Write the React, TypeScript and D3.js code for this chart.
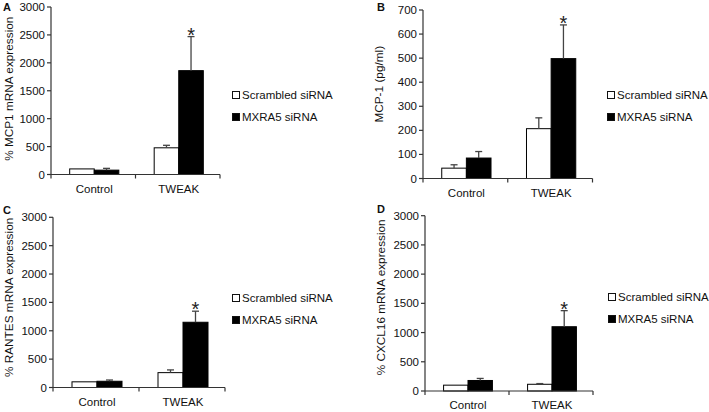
import * as d3 from "d3";

// categories and series
const groups = ["Control", "TWEAK"];
const seriesNames = ["Scrambled siRNA", "MXRA5 siRNA"];

// A: % MCP1 mRNA expression
const mcp1MrnaScrambled = [100, 478];
const mcp1MrnaScrambledErr = [0, 45];
const mcp1MrnaMxra5 = [78, 1860];
const mcp1MrnaMxra5Err = [32, 610];

// B: MCP-1 (pg/ml)
const mcp1ProtScrambled = [43, 207];
const mcp1ProtScrambledErr = [14, 45];
const mcp1ProtMxra5 = [85, 498];
const mcp1ProtMxra5Err = [27, 140];

// C: % RANTES mRNA expression
const rantesScrambled = [100, 262];
const rantesScrambledErr = [0, 48];
const rantesMxra5 = [110, 1150];
const rantesMxra5Err = [22, 195];

// D: % CXCL16 mRNA expression
const cxcl16Scrambled = [100, 115];
const cxcl16ScrambledErr = [0, 12];
const cxcl16Mxra5 = [180, 1100];
const cxcl16Mxra5Err = [35, 275];

const mrnaTicks = [0, 500, 1000, 1500, 2000, 2500, 3000];
const proteinTicks = [0, 100, 200, 300, 400, 500, 600, 700];

type Panel = {
  letter: string;
  label: string;
  ticks: number[];
  scrambled: number[];
  scrambledErr: number[];
  mxra5: number[];
  mxra5Err: number[];
  // layout in page pixels
  x0: number;
  x1: number;
  yTop: number;
  yZero: number;
  labelX: number;
  labelShift: number;
  letterX: number;
  letterY: number;
  legendX: number;
  legendY: number;
};

const panels: Panel[] = [
  {
    letter: "A", label: "% MCP1 mRNA expression", ticks: mrnaTicks,
    scrambled: mcp1MrnaScrambled, scrambledErr: mcp1MrnaScrambledErr,
    mxra5: mcp1MrnaMxra5, mxra5Err: mcp1MrnaMxra5Err,
    x0: 51, x1: 220, yTop: 7, yZero: 174.5, labelX: 9, labelShift: -2,
    letterX: 3, letterY: 7, legendX: 232, legendY: 95,
  },
  {
    letter: "B", label: "MCP-1 (pg/ml)", ticks: proteinTicks,
    scrambled: mcp1ProtScrambled, scrambledErr: mcp1ProtScrambledErr,
    mxra5: mcp1ProtMxra5, mxra5Err: mcp1ProtMxra5Err,
    x0: 423, x1: 592.5, yTop: 10, yZero: 178.5, labelX: 379, labelShift: -10,
    letterX: 377, letterY: 7, legendX: 607, legendY: 95,
  },
  {
    letter: "C", label: "% RANTES mRNA expression", ticks: mrnaTicks,
    scrambled: rantesScrambled, scrambledErr: rantesScrambledErr,
    mxra5: rantesMxra5, mxra5Err: rantesMxra5Err,
    x0: 53, x1: 225, yTop: 217.3, yZero: 387.5, labelX: 9, labelShift: -5,
    letterX: 3, letterY: 210, legendX: 232, legendY: 298,
  },
  {
    letter: "D", label: "% CXCL16 mRNA expression", ticks: mrnaTicks,
    scrambled: cxcl16Scrambled, scrambledErr: cxcl16ScrambledErr,
    mxra5: cxcl16Mxra5, mxra5Err: cxcl16Mxra5Err,
    x0: 425, x1: 593, yTop: 215.7, yZero: 391, labelX: 381, labelShift: -6,
    letterX: 377, letterY: 209, legendX: 608, legendY: 297,
  },
];

const FONT = "'Liberation Sans', Arial, sans-serif";
const AXIS = "#333";
const TEXT = "#111";

const BarPanel = ({ p }: { p: Panel }) => {
  const xScale = d3.scaleBand().domain(groups).range([p.x0, p.x1]).padding(0);
  const inner = d3
    .scaleBand()
    .domain(seriesNames)
    .range([0, xScale.bandwidth()])
    .paddingInner(0)
    .paddingOuter(0.72);
  const yMax = p.ticks[p.ticks.length - 1];
  const yScale = d3.scaleLinear().domain([0, yMax]).range([p.yZero, p.yTop]);

  const rows = groups.flatMap((g, i) => [
    { g, s: seriesNames[0], v: p.scrambled[i], e: p.scrambledErr[i], fill: "#fff" },
    { g, s: seriesNames[1], v: p.mxra5[i], e: p.mxra5Err[i], fill: "#000" },
  ]);

  const bars = rows.map((d, i) => {
    const x = (xScale(d.g) ?? 0) + 1 + (inner(d.s) ?? 0);
    const w = inner.bandwidth();
    const cx = x + w / 2;
    const top = yScale(d.v);
    const cap = yScale(d.v + d.e);
    return (
      <g key={i}>
        <rect
          x={x}
          y={top}
          width={w}
          height={p.yZero - top}
          fill={d.fill}
          stroke="#000"
          strokeWidth={1}
        />
        {d.e > 0 && (
          <g stroke="#444" strokeWidth={1.3}>
            <line x1={cx} x2={cx} y1={top} y2={cap} />
            <line x1={cx - 3.5} x2={cx + 3.5} y1={cap} y2={cap} />
          </g>
        )}
        {d.g === "TWEAK" && d.s === seriesNames[1] && (
          <text
            x={cx}
            y={cap + 5}
            textAnchor="middle"
            fontSize={20}
            fontFamily={FONT}
            fill="#222"
          >
            *
          </text>
        )}
      </g>
    );
  });

  const yTicks = p.ticks.map((t) => (
    <g key={t} transform={`translate(${p.x0},${yScale(t)})`}>
      <line x1={-4} x2={0} stroke={AXIS} strokeWidth={1.2} />
      <text
        x={-6}
        textAnchor="end"
        dominantBaseline="central"
        fontSize={11.5}
        fontFamily={FONT}
        fill={TEXT}
      >
        {t}
      </text>
    </g>
  ));

  const xTickPos = [p.x0, ...groups.slice(1).map((g) => xScale(g) ?? 0), p.x1];
  const xTicks = xTickPos.map((x, i) => (
    <line key={i} x1={x} x2={x} y1={p.yZero} y2={p.yZero + 4} stroke={AXIS} strokeWidth={1.2} />
  ));

  const xLabels = groups.map((g) => (
    <text
      key={g}
      x={(xScale(g) ?? 0) + xScale.bandwidth() / 2 + 1}
      y={p.yZero + 14}
      textAnchor="middle"
      dominantBaseline="central"
      fontSize={11.5}
      fontFamily={FONT}
      fill={TEXT}
    >
      {g}
    </text>
  ));

  const labelY = (p.yTop + p.yZero) / 2 + p.labelShift;

  return (
    <g>
      <text
        x={p.letterX}
        y={p.letterY}
        dominantBaseline="central"
        fontSize={11}
        fontWeight="bold"
        fontFamily={FONT}
        fill={TEXT}
      >
        {p.letter}
      </text>
      <text
        transform={`translate(${p.labelX},${labelY}) rotate(-90)`}
        textAnchor="middle"
        dominantBaseline="central"
        fontSize={11.8}
        fontFamily={FONT}
        fill={TEXT}
      >
        {p.label}
      </text>
      {bars}
      <line x1={p.x0} x2={p.x0} y1={p.yTop} y2={p.yZero} stroke={AXIS} strokeWidth={1.2} />
      <line x1={p.x0} x2={p.x1} y1={p.yZero} y2={p.yZero} stroke={AXIS} strokeWidth={1.2} />
      {yTicks}
      {xTicks}
      {xLabels}
      {seriesNames.map((s, i) => (
        <g key={s} transform={`translate(${p.legendX},${p.legendY + i * 22})`}>
          <rect
            x={0.5}
            y={-3.5}
            width={7}
            height={7}
            fill={i === 0 ? "#fff" : "#000"}
            stroke="#111"
          />
          <text
            x={10}
            dominantBaseline="central"
            fontSize={11.5}
            fontFamily={FONT}
            fill={TEXT}
          >
            {s}
          </text>
        </g>
      ))}
    </g>
  );
};

export default function App() {
  return (
    <div style={{ position: "absolute", left: 0, top: 0 }}>
      <svg width={709} height={412} style={{ display: "block", background: "#fff" }}>
        {panels.map((p) => (
          <BarPanel key={p.letter} p={p} />
        ))}
      </svg>
    </div>
  );
}
